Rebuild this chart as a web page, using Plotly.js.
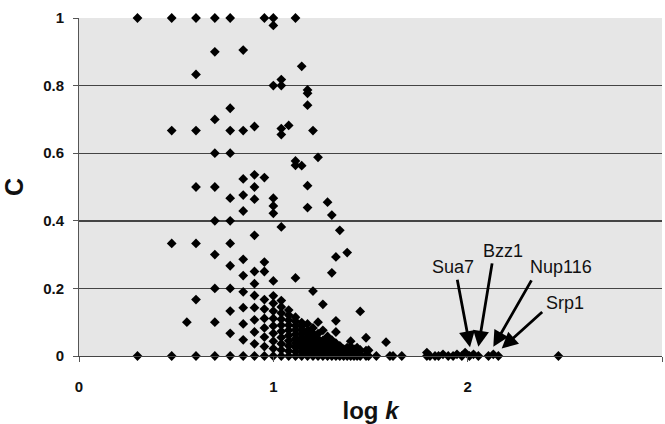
<!DOCTYPE html>
<html>
<head>
<meta charset="utf-8">
<script src="https://cdn.plot.ly/plotly-3.0.1.min.js"></script>
<style>html,body{margin:0;padding:0;background:#fff;}#chart{width:665px;height:424px;}</style>
</head>
<body>
<div id="chart"></div>
<script>
// log k value of each column of points
const colLogK = [0.301, 0.477, 0.555, 0.602, 0.699, 0.778, 0.845, 0.903, 0.954, 1.0,
  1.041, 1.079, 1.114, 1.146, 1.176, 1.204, 1.23, 1.255, 1.279, 1.301,
  1.322, 1.342, 1.362, 1.38, 1.398, 1.415, 1.431, 1.447, 1.477, 1.49,
  1.53, 1.58, 1.60, 1.616, 1.661, 1.79, 1.806, 1.832, 1.85, 1.873,
  1.9, 1.925, 1.945, 1.97, 1.987, 2.009, 2.03, 2.055, 2.107, 2.132, 2.158, 2.467];
// clustering coefficient C values in each column
const colC = [
  [1, 0],
  [1, 0.667, 0.333, 0],
  [0.1],
  [1, 0.833, 0.667, 0.5, 0.333, 0.167, 0],
  [1, 0.9, 0.7, 0.6, 0.5, 0.4, 0.3, 0.2, 0.1, 0],
  [1, 0.733, 0.667, 0.6, 0.467, 0.4, 0.333, 0.267, 0.2, 0.133, 0.067, 0],
  [0.905, 0.667, 0.524, 0.476, 0.429, 0.286, 0.238, 0.19, 0.143, 0.095, 0.048, 0],
  [0.679, 0.536, 0.5, 0.464, 0.357, 0.25, 0.214, 0.179, 0.143, 0.107, 0.071, 0.036, 0],
  [1, 0.528, 0.278, 0.25, 0.167, 0.139, 0.111, 0.083, 0.056, 0.028, 0],
  [1, 0.978, 0.8, 0.467, 0.444, 0.422, 0.222, 0.178, 0.156, 0.133, 0.111, 0.089, 0.067, 0.044, 0.022, 0],
  [0.818, 0.8, 0.673, 0.655, 0.382, 0.164, 0.145, 0.127, 0.109, 0.091, 0.073, 0.055, 0.036, 0.018, 0],
  [0.682, 0.136, 0.121, 0.106, 0.091, 0.076, 0.061, 0.045, 0.03, 0.015, 0],
  [1, 0.577, 0.564, 0.231, 0.115, 0.103, 0.09, 0.077, 0.064, 0.051, 0.038, 0.026, 0.013, 0],
  [0.857, 0.563, 0.099, 0.088, 0.077, 0.066, 0.055, 0.044, 0.033, 0.022, 0.011, 0],
  [0.787, 0.777, 0.742, 0.504, 0.439, 0.095, 0.076, 0.067, 0.057, 0.048, 0.038, 0.029, 0.019, 0.01, 0],
  [0.667, 0.192, 0.083, 0.067, 0.058, 0.05, 0.042, 0.033, 0.025, 0.017, 0.008, 0],
  [0.588, 0.1, 0.066, 0.051, 0.044, 0.037, 0.029, 0.022, 0.015, 0.007, 0],
  [0.153, 0.076, 0.046, 0.039, 0.033, 0.026, 0.02, 0.013, 0.007, 0],
  [0.455, 0.058, 0.041, 0.029, 0.023, 0.018, 0.012, 0.006, 0],
  [0.417, 0.246, 0.047, 0.037, 0.026, 0.021, 0.016, 0.011, 0.005, 0],
  [0.293, 0.104, 0.071, 0.038, 0.029, 0.019, 0.014, 0.01, 0],
  [0.372, 0.03, 0.022, 0.017, 0.009, 0],
  [0.02, 0.012, 0.004, 0],
  [0.306, 0.025, 0.014, 0],
  [0.044, 0.027, 0.013, 0.007, 0],
  [0.02, 0.01, 0],
  [0.025, 0.012, 0],
  [0.132, 0.018, 0.005, 0],
  [0.054, 0.016, 0],
  [0.017, 0],
  [0],
  [0.041],
  [0], [0], [0],
  [0.01, 0],
  [0], [0], [0], [0.005],
  [0], [0], [0.005], [0], [0.01],
  [0], [0.005], [0], [0], [0.005], [0], [0]
];
// labelled proteins
const labelNames = ["Sua7", "Bzz1", "Nup116", "Srp1"];
const labelLogK = [2.012, 2.055, 2.132, 2.175];
const labelC = [0.026, 0.027, 0.027, 0.022];
const yTicks = [0, 0.2, 0.4, 0.6, 0.8, 1];
const yTickText = ["0", "0.2", "0.4", "0.6", "0.8", "1"];
const xTicks = [0, 1, 2, 3];

const xs = [], ys = [];
colLogK.forEach((x, i) => colC[i].forEach(c => { xs.push(x); ys.push(c); }));

const FONT = "Liberation Sans, Arial, sans-serif";

// arrow tail offsets (px) and label positions
const arrowOff = [[-13, -69], [14, -85], [39, -68], [42, -38]];
const textPos = [[1.926, 0.262], [2.184, 0.311], [2.478, 0.262], [2.500, 0.158]];

const annotations = [];
labelNames.forEach((n, i) => {
  annotations.push({
    x: labelLogK[i], y: labelC[i], xref: 'x', yref: 'y',
    text: '', showarrow: true, arrowhead: 2, arrowsize: 1.15, arrowwidth: 2.8,
    arrowcolor: '#000', ax: arrowOff[i][0], ay: arrowOff[i][1], standoff: 0
  });
  annotations.push({
    x: textPos[i][0], y: textPos[i][1], xref: 'x', yref: 'y',
    text: n, showarrow: false, font: {family: FONT, size: 18, color: '#111'}
  });
});

const trace = {
  x: xs, y: ys, type: 'scatter', mode: 'markers', cliponaxis: false,
  marker: {symbol: 'diamond', size: 7.5, color: '#000'},
  hoverinfo: 'skip'
};

const layout = {
  width: 665, height: 424,
  margin: {l: 79, r: 3, t: 18, b: 68, pad: 0},
  paper_bgcolor: '#ffffff',
  plot_bgcolor: '#e6e6e6',
  showlegend: false,
  font: {family: FONT, color: '#111'},
  xaxis: {
    range: [0, 3], tickvals: xTicks, ticktext: xTicks.map(v => '<b>' + v + '</b>'),
    showgrid: false, zeroline: false, showline: true, linecolor: '#444', linewidth: 1.3,
    ticks: 'outside', ticklen: 5, tickcolor: '#555', ticklabelstandoff: 12,
    tickfont: {family: FONT, size: 15, color: '#111'},
    title: {text: '<b>log <i>k</i></b>', font: {family: FONT, size: 24, color: '#111'}, standoff: 8},
    automargin: false
  },
  yaxis: {
    range: [0, 1], tickvals: yTicks, ticktext: yTickText.map(v => '<b>' + v + '</b>'),
    showgrid: true, gridcolor: '#444', gridwidth: 1.4,
    zeroline: false, showline: true, linecolor: '#555', linewidth: 1,
    ticks: 'outside', ticklen: 5, tickcolor: '#555', ticklabelstandoff: 6,
    tickfont: {family: FONT, size: 15, color: '#111'},
    title: {text: '<b>C</b>', font: {family: FONT, size: 25, color: '#111'}, standoff: 13},
    automargin: false
  },
  annotations: annotations
};

Plotly.newPlot('chart', [trace], layout, {displayModeBar: false, staticPlot: true});
</script>
</body>
</html>
